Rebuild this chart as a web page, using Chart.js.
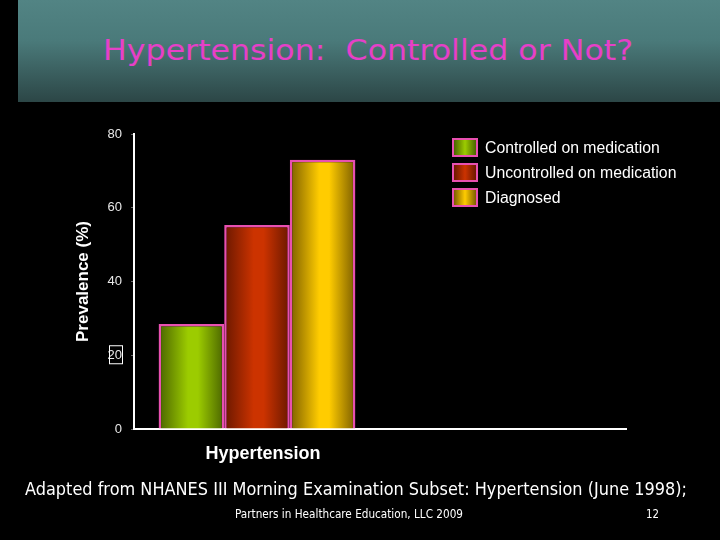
<!DOCTYPE html>
<html>
<head>
<meta charset="utf-8">
<script src="https://cdn.jsdelivr.net/npm/chart.js@4.4.0/dist/chart.umd.min.js"></script>
<style>
  html, body { margin: 0; padding: 0; background: #000; }
  #page { position: relative; width: 720px; height: 540px; overflow: hidden; background: #000; }
  #banner {
    position: absolute; left: 18px; top: 0; width: 702px; height: 102px;
    background: linear-gradient(to bottom, #528484 0%, #4a7a7a 40%, #2c4646 100%);
  }
  canvas { position: absolute; left: 0; top: 0; }
  .fit { position: absolute; white-space: nowrap; transform-origin: 0 50%; }
  #title { color: #e640c8; font: 29px "DejaVu Sans Condensed", "DejaVu Sans", sans-serif; top: 33px; left: 103px; }
  #source { color: #fff; font: 17px "DejaVu Sans", sans-serif; top: 479px; left: 25px; }
  #partners { color: #fff; font: 12px "DejaVu Sans Condensed", "DejaVu Sans", sans-serif; top: 507px; left: 235px; }
  #slideNo { color: #fff; font: 12px "DejaVu Sans", sans-serif; top: 507px; left: 646px; }
  #legend { position: absolute; left: 452px; top: 138px; }
  .item { height: 25px; display: flex; align-items: flex-start; }
  .swatch { width: 22px; height: 15px; border: 2px solid #e850b0; }
  .item span { color: #fff; font: 15.8px "Liberation Sans", Arial, sans-serif; margin-left: 7px; line-height: 19px; }
</style>
</head>
<body>
<div id="page">
  <div id="banner"></div>
  <div id="title" class="fit" data-w="530">Hypertension:&nbsp; Controlled or Not?</div>
  <canvas id="chart" width="720" height="540"></canvas>
  <div id="legend"></div>
  <div id="source" class="fit" data-w="662">Adapted from NHANES III Morning Examination Subset: Hypertension (June 1998);</div>
  <div id="partners" class="fit" data-w="228">Partners in Healthcare Education, LLC 2009</div>
  <div id="slideNo" class="fit" data-w="13">12</div>
</div>
<script>
// chart data
const categories = ["Hypertension", ""];
const seriesNames = ["Controlled on medication", "Uncontrolled on medication", "Diagnosed"];
const controlled = [28.5];
const uncontrolled = [55.3];
const diagnosed = [73];
const yTicks = [0, 20, 40, 60, 80];

// edge / centre colours for the shaded bars
const shades = [
    { edge: "#4a6400", mid: "#9ccc00" },
    { edge: "#6a1800", mid: "#cc3300" },
    { edge: "#7c5e00", mid: "#ffcc00" }
];
const groupPct = 0.8;

// squeeze text to the width it has in the slide
document.querySelectorAll(".fit").forEach(el => {
    const w = el.getBoundingClientRect().width;
    el.style.transform = "scaleX(" + (el.dataset.w / w) + ")";
});

function shadeGradient(ctx2d, left, right, s) {
    const g = ctx2d.createLinearGradient(left, 0, right, 0);
    g.addColorStop(0, s.edge);
    g.addColorStop(0.45, s.mid);
    g.addColorStop(0.6, s.mid);
    g.addColorStop(1, s.edge);
    return g;
}

function barFill(context) {
    const s = shades[context.datasetIndex];
    const chart = context.chart;
    const x = chart.scales.x;
    if (!x || context.dataIndex === undefined) return s.mid;
    const catW = x.width / categories.length;
    const groupW = catW * groupPct;
    const bw = groupW / shades.length;
    const left = x.getPixelForValue(context.dataIndex) - groupW / 2 + bw * context.datasetIndex;
    if (!isFinite(left) || !isFinite(bw) || bw <= 0) return s.mid; // scale not laid out yet
    return shadeGradient(chart.ctx, left, left + bw, s);
}

// legend built from the series
const legend = document.getElementById("legend");
seriesNames.forEach((name, i) => {
    const item = document.createElement("div");
    item.className = "item";
    const sw = document.createElement("div");
    sw.className = "swatch";
    sw.style.background = "linear-gradient(to right, " + shades[i].edge + ", " + shades[i].mid + " 50%, " + shades[i].edge + ")";
    const label = document.createElement("span");
    label.textContent = name;
    item.appendChild(sw);
    item.appendChild(label);
    legend.appendChild(item);
});

// the little box that sits round the "20" label in the slide
const boxedTick = {
    id: "boxedTick",
    afterDraw(chart) {
        const y = chart.scales.y.getPixelForValue(20);
        const c = chart.ctx;
        c.save();
        c.strokeStyle = "#fff";
        c.lineWidth = 1;
        c.strokeRect(109.5, y - 9.5, 13, 18);
        c.restore();
    }
};

const values = [controlled, uncontrolled, diagnosed];

new Chart(document.getElementById("chart"), {
    type: "bar",
    data: {
        labels: categories,
        datasets: seriesNames.map((name, i) => ({
            label: name,
            data: values[i],
            backgroundColor: barFill,
            borderColor: "#e850b0",
            borderWidth: 2.5,
            borderSkipped: "bottom",
            categoryPercentage: groupPct,
            barPercentage: 1
        }))
    },
    options: {
        responsive: false,
        animation: false,
        layout: { padding: { left: 0, top: 134, right: 94, bottom: 71 } },
        plugins: {
            legend: { display: false },
            tooltip: { enabled: false }
        },
        scales: {
            x: {
                offset: true,
                grid: { drawOnChartArea: false, drawTicks: false },
                border: { color: "#fff", width: 2 },
                ticks: {
                    color: "#fff",
                    padding: 14,
                    labelOffset: 6,
                    font: { family: "Liberation Sans", size: 18, weight: "bold" }
                },
                afterFit: scale => { scale.height = 40; }
            },
            y: {
                min: 0,
                max: 80,
                afterBuildTicks: scale => { scale.ticks = yTicks.map(v => ({ value: v })); },
                grid: { drawOnChartArea: false, drawTicks: true, tickLength: 3, color: "#666" },
                border: { color: "#fff", width: 2 },
                ticks: {
                    color: "#e8e8e8",
                    padding: 9,
                    font: { family: "Liberation Sans", size: 13 }
                },
                title: {
                    display: true,
                    text: "Prevalence (%)",
                    color: "#fff",
                    padding: { top: 73, bottom: 0 },
                    font: { family: "Liberation Sans", size: 17, weight: "bold" }
                },
                afterFit: scale => { scale.width = 134; }
            }
        }
    },
    plugins: [boxedTick]
});
</script>
</body>
</html>
